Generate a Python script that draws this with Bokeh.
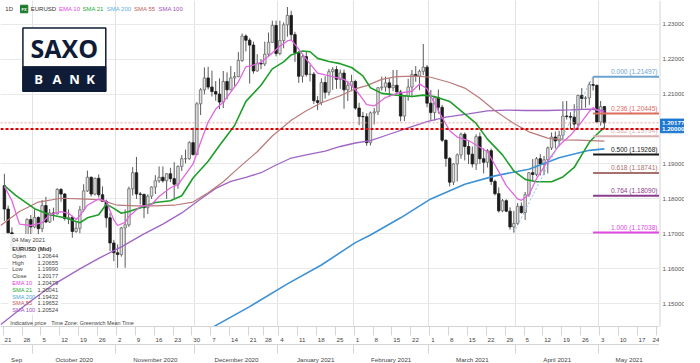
import pandas as pd
from bokeh.plotting import figure
from bokeh.layouts import row
from bokeh.models import (Range1d, FixedTicker, LinearAxis, Grid, Span)
from bokeh.core.properties import value
from bokeh.embed import file_html
from bokeh.resources import INLINE

FONT = "Liberation Sans"

# ---------------- data ----------------
HOLIDAYS = ["2020-12-25", "2021-01-01"]
calendar = [d for d in pd.bdate_range("2020-09-21", "2021-05-28")
            if d.strftime("%Y-%m-%d") not in HOLIDAYS]

opens = [1.1838,1.1771,1.1703,1.1657,1.1672,1.1631,1.1667,1.1741,
         1.1720,1.1747,1.1715,1.1781,1.1734,1.1760,1.1757,1.1827,1.1814,1.1744,1.1747,1.1707,
         1.1716,1.1769,1.1823,1.1862,1.1814,1.1859,1.1812,1.1793,1.1746,1.1674,
         1.1646,1.1641,1.1717,1.1726,1.1829,1.1875,1.1814,1.1813,1.1775,1.1808,
         1.1834,1.1852,1.1862,1.1852,1.1872,1.1858,1.1842,1.1893,1.1915,1.1915,1.1961,
         1.1927,1.2072,1.2112,1.2146,1.2120,1.2107,1.2100,1.2077,1.2136,1.2112,1.2146,
         1.2150,1.2196,1.2266,1.2254,1.2240,1.2166,1.2188,1.2186,1.2214,1.2248,1.2296,
         1.2216,1.2253,1.2298,1.2325,1.2270,1.2218,1.2151,1.2207,1.2156,1.2157,
         1.2081,1.2076,1.2133,1.2105,1.2164,1.2170,1.2142,1.2160,1.2112,1.2125,
         1.2136,1.2060,1.2036,1.2035,1.1961,1.2046,1.2049,1.2118,1.2120,1.2132,
         1.2118,1.2125,1.2106,1.2037,1.2094,1.2120,1.2156,1.2151,1.2165,1.2177,
         1.2074,1.2047,1.2090,1.2062,1.1968,1.1916,1.1848,1.1900,1.1926,1.1985,
         1.1950,1.1928,1.1900,1.1978,1.1915,1.1905,1.1938,1.1850,1.1815,1.1766,
         1.1795,1.1765,1.1720,
         1.1730,1.1779,1.1761,1.1812,1.1875,1.1870,1.1915,1.1900,1.1912,1.1946,
         1.1977,1.1966,1.1982,1.2037,1.2036,1.2034,1.2014,1.2096,1.2087,1.2089,
         1.2127,1.2125,1.2020,1.20644]
highs = [1.1872,1.1781,1.1719,1.1687,1.1680,1.1682,1.1745,1.1754,
         1.1770,1.1750,1.1797,1.1806,1.1771,1.1775,1.1831,1.1831,1.1817,1.1770,1.1752,1.1734,
         1.1780,1.1842,1.1881,1.1864,1.1861,1.1870,1.1836,1.1798,1.1760,1.1683,
         1.1670,1.1720,1.1770,1.1835,1.1891,1.1920,1.1820,1.1815,1.1813,1.1836,
         1.1868,1.1893,1.1893,1.1873,1.1889,1.1905,1.1896,1.1925,1.1941,1.1965,1.2004,
         1.2077,1.2117,1.2176,1.2178,1.2167,1.2137,1.2145,1.2166,1.2162,1.2180,1.2163,
         1.2220,1.2273,1.2271,1.2260,1.2250,1.2214,1.2200,1.2250,1.2276,1.2310,1.2310,
         1.2310,1.2305,1.2349,1.2338,1.2278,1.2223,1.2212,1.2222,1.2184,1.2163,
         1.2094,1.2145,1.2151,1.2172,1.2177,1.2180,1.2170,1.2170,1.2138,1.2155,
         1.2141,1.2075,1.2049,1.2045,1.2050,1.2060,1.2120,1.2150,1.2150,1.2145,
         1.2169,1.2169,1.2112,1.2095,1.2144,1.2169,1.2180,1.2170,1.2243,1.2183,
         1.2112,1.2093,1.2113,1.2069,1.1970,1.1920,1.1902,1.1930,1.1990,1.1990,
         1.1965,1.1950,1.1985,1.1990,1.1945,1.1943,1.1944,1.1855,1.1833,1.1800,
         1.1799,1.1776,1.1766,
         1.1788,1.1790,1.1820,1.1877,1.1914,1.1920,1.1928,1.1923,1.1950,1.1990,
         1.1993,1.1995,1.2079,1.2080,1.2048,1.2071,1.2098,1.2117,1.2094,1.2135,
         1.21497,1.2127,1.2080,1.20655]
lows = [1.1737,1.1703,1.1651,1.1627,1.1612,1.1625,1.1660,1.1685,
        1.1716,1.1696,1.1705,1.1731,1.1731,1.1738,1.1756,1.1792,1.1738,1.1728,1.1689,1.1703,
        1.1702,1.1763,1.1820,1.1807,1.1810,1.1804,1.1792,1.1718,1.1651,1.1622,
        1.1603,1.1635,1.1603,1.1720,1.1810,1.1800,1.1784,1.1745,1.1757,1.1800,
        1.1814,1.1846,1.1847,1.1800,1.1848,1.1801,1.1829,1.1880,1.1902,1.1912,1.1924,
        1.1925,1.2040,1.2099,1.2113,1.2093,1.2081,1.2057,1.2060,1.2085,1.2111,1.2123,
        1.2148,1.2192,1.2222,1.2130,1.2158,1.2164,1.2171,1.2180,1.2207,1.2247,1.2208,
        1.2211,1.2231,1.2264,1.2253,1.2192,1.2132,1.2133,1.2150,1.2136,1.2072,
        1.2054,1.2068,1.2087,1.2096,1.2112,1.2115,1.2115,1.2058,1.2080,1.2108,
        1.2055,1.2011,1.2002,1.1952,1.1953,1.2013,1.2040,1.2110,1.2107,1.2092,
        1.2108,1.2104,1.2022,1.2023,1.2081,1.2091,1.2135,1.2111,1.2154,1.2062,
        1.2023,1.2024,1.2044,1.1963,1.1892,1.1836,1.1840,1.1850,1.1915,1.1910,
        1.1900,1.1890,1.1883,1.1900,1.1873,1.1890,1.1840,1.1810,1.1761,1.1762,
        1.1762,1.1712,1.17038,
        1.1725,1.1758,1.1740,1.1806,1.1853,1.1865,1.1867,1.1868,1.1873,1.1940,
        1.1944,1.1950,1.1970,1.2027,1.2000,1.1995,1.1999,1.2057,1.2061,1.2069,
        1.2110,1.2018,1.2010,1.19990]
closes = [1.1771,1.1703,1.1657,1.1672,1.1631,1.1667,1.1741,1.1720,
          1.1747,1.1715,1.1781,1.1734,1.1760,1.1757,1.1827,1.1814,1.1744,1.1747,1.1707,1.1716,
          1.1769,1.1823,1.1862,1.1814,1.1859,1.1812,1.1793,1.1746,1.1674,1.1646,
          1.1641,1.1717,1.1726,1.1829,1.1875,1.1814,1.1813,1.1775,1.1808,1.1834,
          1.1852,1.1862,1.1852,1.1872,1.1858,1.1842,1.1893,1.1915,1.1915,1.1961,1.1927,
          1.2072,1.2112,1.2146,1.2120,1.2107,1.2100,1.2077,1.2136,1.2112,1.2146,1.2150,
          1.2196,1.2266,1.2254,1.2240,1.2166,1.2188,1.2186,1.2214,1.2248,1.2296,1.2216,
          1.2253,1.2298,1.2325,1.2270,1.2218,1.2151,1.2207,1.2156,1.2157,1.2081,
          1.2076,1.2133,1.2105,1.2164,1.2170,1.2142,1.2160,1.2112,1.2125,1.2136,
          1.2060,1.2036,1.2035,1.1961,1.2046,1.2049,1.2118,1.2120,1.2132,1.2118,
          1.2125,1.2106,1.2037,1.2094,1.2120,1.2156,1.2151,1.2165,1.2177,1.2074,
          1.2047,1.2090,1.2062,1.1968,1.1916,1.1848,1.1900,1.1926,1.1985,1.1950,
          1.1928,1.1900,1.1978,1.1915,1.1905,1.1938,1.1850,1.1815,1.1766,1.1795,
          1.1765,1.1720,1.1730,
          1.1779,1.1761,1.1812,1.1875,1.1870,1.1915,1.1900,1.1912,1.1946,1.1977,
          1.1966,1.1982,1.2037,1.2036,1.2034,1.2014,1.2096,1.2087,1.2089,1.2127,
          1.2125,1.2020,1.2064,1.20177]

# moving averages (trading-day index, price)
ema10_x = [0,2,4,7,10,12,15,17,19,20,22,25,27,29,30,32,33,36,39,41,44,46,48,50,52,54,56,58,62,64,66,68,70,73,75,76,77,80,83,87,90,92,94,96,98,101,104,108,110,112,115,118,120,123,126,128,131,133,136,137,139,141,144,147,150,152,155,156,157,159]
ema10_y = [1.1836,1.1795,1.1728,1.1724,1.1732,1.1755,1.1764,1.1759,1.1741,1.1752,1.1782,1.1800,1.1793,1.1740,1.1724,1.1733,1.1750,1.1778,1.1784,1.1807,1.1832,1.1841,1.1870,1.1900,1.1962,1.2020,1.2057,1.2077,1.2135,1.2178,1.2183,1.2191,1.2208,1.2237,1.2252,1.2255,1.2242,1.2200,1.2160,1.2150,1.2142,1.2124,1.2100,1.2070,1.2066,1.2090,1.2102,1.2108,1.2129,1.2115,1.2052,1.1995,1.1977,1.1967,1.1948,1.1935,1.1878,1.1838,1.1800,1.1796,1.1812,1.1858,1.1908,1.1953,1.1982,1.2007,1.2050,1.2061,1.2055,1.20479]
sma21_x = [0,3,8,12,16,20,22,25,27,29,31,33,37,40,44,47,50,54,57,61,64,68,71,74,76,79,81,83,86,89,92,95,97,100,104,108,111,114,118,121,125,128,132,135,138,141,145,148,151,153,155,157,159]
sma21_y = [1.1838,1.1810,1.1772,1.1755,1.1746,1.1732,1.1746,1.1755,1.1785,1.1773,1.1759,1.1764,1.1778,1.1790,1.1795,1.1809,1.1860,1.1908,1.1953,1.2010,1.2079,1.2125,1.2172,1.2192,1.2212,1.2223,1.2221,1.2202,1.2193,1.2187,1.2176,1.2152,1.2118,1.2102,1.2097,1.2093,1.2097,1.2093,1.2079,1.2052,1.2016,1.1971,1.1926,1.1880,1.1856,1.1849,1.1849,1.1863,1.1890,1.1926,1.1962,1.1985,1.20041]
sma55_x = [-1,4,9,15,20,25,30,35,40,45,50,54,58,62,67,71,76,80,84,89,93,96,100,104,109,113,118,122,126,130,135,139,144,148,152,159]
sma55_y = [1.1724,1.1764,1.1791,1.1802,1.1800,1.1798,1.1782,1.1780,1.1780,1.1782,1.1791,1.1818,1.1849,1.1888,1.1935,1.1980,1.2025,1.2052,1.2075,1.2095,1.2115,1.2124,1.2142,1.2150,1.2151,1.2148,1.2133,1.2117,1.2088,1.2052,1.2016,1.1992,1.1974,1.1969,1.1968,1.19652]
sma100_x = [-1,6,13,20,25,31,37,42,47,52,56,60,64,68,72,76,80,85,89,93,97,102,107,112,117,123,128,133,138,144,150,155,159]
sma100_y = [1.1440,1.1500,1.1555,1.1600,1.1630,1.1663,1.1700,1.1728,1.1760,1.1800,1.1830,1.1850,1.1862,1.1875,1.1897,1.1917,1.1926,1.1937,1.1950,1.1960,1.1967,1.1985,1.2003,1.2021,1.2034,1.2043,1.2052,1.2054,1.2053,1.2053,1.2055,1.2057,1.20524]
sma200_x = [55,65,75,84,93,97,105,113,122,130,139,147,155,159]
sma200_y = [1.1432,1.1492,1.1557,1.1611,1.1675,1.1697,1.1746,1.1800,1.1842,1.1866,1.1885,1.1918,1.1939,1.19432]

fib_ratio = ["0.000", "0.236", "0.382", "0.500", "0.618", "0.764", "1.000"]
fib_price = [1.21497, 1.20445, 1.19794, 1.19268, 1.18741, 1.18090, 1.17038]
fib_color = ["#6aa3cf", "#dd6b5f", "#d8aeae", "#1a1a1a", "#a8706c", "#8c3c8c", "#e048e0"]
fib_low_date, fib_high_date = "2021-03-31", "2021-04-29"

last_price = 1.20177
level_price = 1.20000
price_ticks = [1.15, 1.16, 1.17, 1.18, 1.19, 1.20, 1.21, 1.22, 1.23]

month_labels = ["Sep", "October 2020", "November 2020", "December 2020", "January 2021",
                "February 2021", "March 2021", "April 2021", "May 2021"]

info_date = "04 May 2021"
info_title = "EURUSD (Mid)"
info_labels = ["Open", "High", "Low", "Close", "EMA 10", "SMA 21", "SMA 200", "SMA 55", "SMA 100"]
info_values = ["1.20644", "1.20655", "1.19990", "1.20177", "1.20479", "1.20041", "1.19432", "1.19652", "1.20524"]

EMA_C, S21_C, S200_C, S55_C, S100_C = "#e066e0", "#1f9e2a", "#3d91d4", "#b97a7a", "#a064c4"
info_colors = ["#444", "#444", "#444", "#444", "#e040e0", "#22aa33", "#4aa6de", "#c06060", "#a050c0"]

# ---------------- geometry ----------------
SIDE_W = 25
FW, FH = 684 - SIDE_W, 326
X0, X1 = -1.03, 173.6
Y0, Y1 = 1.14351, 1.23676
REF_W, REF_H = 676.0, 345.0
FS = "6.2px"
FS_INFO = "5.7px"
AX = "#d4d4d4"


def X(px):
    return X0 + px / REF_W * (X1 - X0)


def Y(py):
    return Y1 - py / REF_H * (Y1 - Y0)


idx_of = {d.strftime("%Y-%m-%d"): i for i, d in enumerate(calendar)}
n = len(opens)
xs = list(range(n))

p = figure(frame_width=FW, frame_height=FH, x_range=Range1d(X0, X1), y_range=Range1d(Y0, Y1),
           y_axis_location=None, output_backend="svg", toolbar_location=None,
           min_border_left=0, min_border_right=0, min_border_top=0, min_border_bottom=0,
           background_fill_color="white", border_fill_color="white", outline_line_color=None)

# grids
p.add_layout(Grid(dimension=1, ticker=FixedTicker(ticks=price_ticks), grid_line_color="#e9e9e9"))
month_bounds = [i - 0.5 for i in range(1, len(calendar)) if calendar[i].month != calendar[i - 1].month]
p.xgrid.ticker = FixedTicker(ticks=month_bounds)
p.xgrid.grid_line_color = "#e2e2e2"

# day axis
mondays = [i for i, d in enumerate(calendar) if i == 0 or calendar[i].weekday() < calendar[i - 1].weekday()]
day_pos, day_over, day_sep = [], {}, []
for i in mondays:
    lbl = str(calendar[i].day)
    pos = round(min(i + (0.95 if len(lbl) == 2 else 0.55), X1 - 0.9), 3)
    day_pos.append(pos)
    day_over[pos] = lbl
    day_sep.append(i - 0.3)
xa = p.xaxis[0]
xa.ticker = FixedTicker(ticks=day_pos, minor_ticks=day_sep)
xa.major_label_overrides = day_over
xa.major_tick_line_color = None
xa.minor_tick_line_color = AX
xa.minor_tick_in = 0
xa.minor_tick_out = 9
xa.axis_line_color = AX
xa.major_label_standoff = 2
xa.major_label_text_font_size = FS
xa.major_label_text_font = FONT
xa.major_label_text_color = "#444444"

# month axis
edges = [X0] + month_bounds + [X1]
mon_pos, mon_over = [], {}
for k, lbl in enumerate(month_labels):
    c = round((edges[k] + edges[k + 1]) / 2.0, 3)
    mon_pos.append(c)
    mon_over[c] = lbl
ma = LinearAxis(ticker=FixedTicker(ticks=mon_pos, minor_ticks=month_bounds))
ma.major_label_overrides = mon_over
ma.major_tick_line_color = None
ma.minor_tick_line_color = AX
ma.minor_tick_in = 0
ma.minor_tick_out = 9
ma.axis_line_color = AX
ma.major_label_standoff = 2
ma.major_label_text_font_size = FS
ma.major_label_text_font = FONT
ma.major_label_text_color = "#444444"
p.add_layout(ma, "below")

# reference lines
p.add_layout(Span(location=last_price, dimension="width", line_color="#e6a0a0",
                  line_dash="2 2", line_width=1))
p.add_layout(Span(location=level_price, dimension="width", line_color="#e00000",
                  line_dash="3 2", line_width=2))

# candles
up = [i for i in xs if closes[i] >= opens[i]]
dn = [i for i in xs if closes[i] < opens[i]]
p.segment(x0=xs, x1=xs, y0=lows, y1=highs, line_color="#5a5a5a", line_width=1)
p.vbar(x=up, width=0.66, bottom=[opens[i] for i in up], top=[closes[i] for i in up],
       fill_color="#e2e2e2", line_color="#6a6a6a", line_width=0.8)
p.vbar(x=dn, width=0.66, bottom=[closes[i] for i in dn], top=[opens[i] for i in dn],
       fill_color="#1c1c1c", line_color="#1c1c1c", line_width=0.8)

# info panel backdrop (covers candles, lines stay on top)
p.quad(left=[X(8)], right=[X(62)], top=[Y(247)], bottom=[Y(333)], fill_color="white",
       fill_alpha=0.92, line_color=None)

# moving averages
p.line(sma100_x, sma100_y, line_color=S100_C, line_width=1.3)
p.line(sma55_x, sma55_y, line_color=S55_C, line_width=1.2)
p.line(sma200_x, sma200_y, line_color=S200_C, line_width=1.6)
p.line(sma21_x, sma21_y, line_color=S21_C, line_width=1.6)
p.line(ema10_x, ema10_y, line_color=EMA_C, line_width=1.3)

# fibonacci retracement
i_lo, i_hi = idx_of[fib_low_date], idx_of[fib_high_date]
p.line([i_lo, i_hi], [fib_price[-1], fib_price[0]], line_color="#86bbe6", line_dash="2 2", line_width=1)
p.segment(x0=[i_hi] * len(fib_price), x1=[X1] * len(fib_price), y0=fib_price, y1=fib_price,
          line_color=fib_color, line_width=2)
dy2 = 2 * (Y1 - Y0) / REF_H
p.text(x=[X(674)] * len(fib_price), y=[v + dy2 for v in fib_price],
       text=[f"{r} ({v:.5f})" for r, v in zip(fib_ratio, fib_price)],
       text_color=fib_color, text_font=value(FONT), text_font_size="6.6px",
       text_align="right", text_baseline="bottom")

# header
hdr = [("1D", 5, "#333333"), ("EURUSD", 31, "#333333"), ("EMA 10", 60, "#e23fe2"),
       ("SMA 21", 84, "#22aa33"), ("SMA 200", 109, "#5aaee0"), ("SMA 55", 137, "#c06060"),
       ("SMA 100", 162, "#a050c0")]
p.text(x=[X(h[1]) for h in hdr], y=[Y(9)] * len(hdr), text=[h[0] for h in hdr],
       text_color=[h[2] for h in hdr], text_font=value(FONT), text_font_size="6px",
       text_baseline="middle", text_align="left")
p.quad(left=[X(20.5)], right=[X(28)], top=[Y(5)], bottom=[Y(13)], fill_color="#1d7a2a", line_color="#1d7a2a")
p.text(x=[X(24.2)], y=[Y(9)], text=["FX"], text_color="white", text_font=value(FONT),
       text_font_size="4px", text_font_style="bold", text_align="center", text_baseline="middle")

# Saxo Bank logo
NAVY = "#0e1c38"
p.quad(left=[X(23)], right=[X(108)], top=[Y(29)], bottom=[Y(96)], fill_color="white",
       line_color=NAVY, line_width=1.5)
p.quad(left=[X(23)], right=[X(108)], top=[Y(70)], bottom=[Y(96)], fill_color=NAVY, line_color=NAVY)
p.text(x=[X(65.5)], y=[Y(50.5)], text=["SAXO"], text_color=NAVY, text_font=value("Open Sans"),
       text_font_size="25px", text_font_style="bold", text_align="center", text_baseline="middle")
p.text(x=[X(39), X(58), X(76), X(92.5)], y=[Y(83)] * 4, text=["B", "A", "N", "K"],
       text_color="white", text_font=value("Open Sans"), text_font_size="13px",
       text_font_style="bold", text_align="center", text_baseline="middle")

# info box
rows_y = [270.7, 277.3, 284.3, 291.7, 299, 306, 313.3, 320.3, 327.7]
p.text(x=[X(12)], y=[Y(253.3)], text=[info_date], text_color="#444444", text_font=value(FONT),
       text_font_size=FS_INFO, text_baseline="middle")
p.text(x=[X(12)], y=[Y(262.7)], text=[info_title], text_color="#333333", text_font=value(FONT),
       text_font_size=FS_INFO, text_font_style="bold", text_baseline="middle")
p.text(x=[X(12)] * len(info_labels), y=[Y(r) for r in rows_y], text=info_labels,
       text_color=info_colors, text_font=value(FONT), text_font_size=FS_INFO, text_baseline="middle")
p.text(x=[X(38)] * len(info_values), y=[Y(r) for r in rows_y], text=info_values,
       text_color="#444444", text_font=value(FONT), text_font_size=FS_INFO, text_baseline="middle")
p.text(x=[X(10), X(52)], y=[Y(341.5)] * 2, text=["Indicative price", "Time Zone: Greenwich Mean Time"],
       text_color="#444444", text_font=value(FONT), text_font_size="5.4px", text_baseline="middle")

# ---------------- price column (shares the price scale) ----------------
side = figure(frame_width=SIDE_W, frame_height=FH, x_range=Range1d(0, SIDE_W), y_range=p.y_range,
              x_axis_location=None, y_axis_location=None, output_backend="svg", toolbar_location=None,
              min_border_left=0, min_border_right=0, min_border_top=0, min_border_bottom=0,
              background_fill_color="white", border_fill_color="white", outline_line_color=None)
side.grid.visible = False
side.segment(x0=[0], x1=[0], y0=[Y0], y1=[Y1], line_color=AX, line_width=2)
side.text(x=[3] * len(price_ticks), y=price_ticks, text=[f"{t:.5f}" for t in price_ticks],
          text_color="#555555", text_font=value(FONT), text_font_size=FS, text_baseline="middle")
tag_h = 7.5 * (Y1 - Y0) / FH
for val in [last_price, level_price]:
    side.quad(left=[1], right=[SIDE_W], top=[val + tag_h / 2], bottom=[val - tag_h / 2],
              fill_color="#1f78d1", line_color="#1f78d1")
    side.text(x=[2.5], y=[val], text=[f"{val:.5f}"], text_color="white", text_font=value(FONT),
              text_font_size=FS, text_font_style="bold", text_baseline="middle")

layout = row(p, side, spacing=0)
open("out.html", "w").write(file_html(layout, INLINE))
